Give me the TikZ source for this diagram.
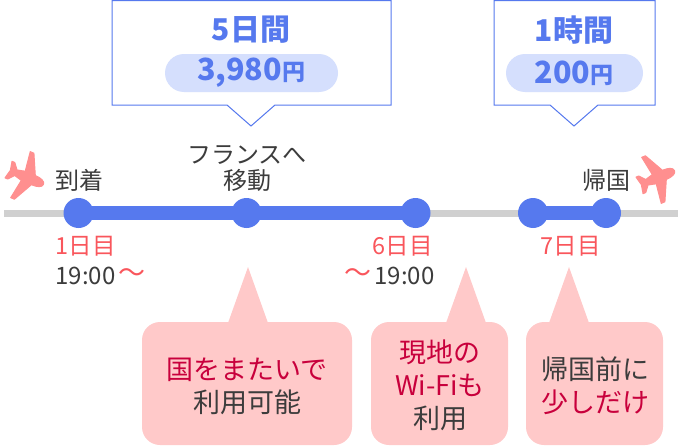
\documentclass[tikz,border=0pt]{standalone}
\usepackage{fontspec}
\setmainfont{Noto Sans CJK JP}
\usetikzlibrary{backgrounds}
\definecolor{tripblue}{HTML}{5679EE}
\definecolor{pillblue}{HTML}{D5DFFD}
\definecolor{railgray}{HTML}{D0D0D0}
\definecolor{dayred}{HTML}{F9565C}
\definecolor{notepink}{HTML}{FFC9C9}
\definecolor{notered}{HTML}{C8003C}
\definecolor{inkgray}{HTML}{3C3C3C}
\definecolor{planepink}{HTML}{FF8F8F}
\newcommand{\planeshape}{
    (19,0) .. controls (19,-3.5) and (14,-5) .. (8,-5) -- (-2,-25) -- (-6,-25) -- (-3,-5)
    -- (-11,-3) -- (-16,-9) -- (-19,-9) -- (-17,0) -- (-19,9) -- (-16,9) -- (-11,3)
    -- (-3,5) -- (-6,25) -- (-2,25) -- (8,5) .. controls (14,5) and (19,3.5) .. (19,0) -- cycle
}
\tikzset{
    stopdot/.style={circle,fill=tripblue,minimum size=30pt,inner sep=0pt},
    label/.style={text=inkgray,font=\fontsize{24}{28}\selectfont,inner sep=0pt},
    daylabel/.style={text=dayred,font=\fontsize{23.5}{28}\selectfont,inner sep=0pt},
    wave/.style={text=dayred,font=\fontsize{27}{28}\selectfont,inner sep=0pt},
    pricebox/.style={draw=tripblue,fill=white,line width=1pt,line join=miter},
    pill/.style={fill=pillblue,rounded corners=19pt},
    heading/.style={text=tripblue,font=\fontsize{30}{34}\selectfont\bfseries,inner sep=0pt},
    price/.style={text=tripblue,font=\fontsize{30.5}{34}\selectfont\bfseries,inner sep=0pt},
    notebox/.style={fill=notepink,rounded corners=18pt},
    notetip/.style={fill=notepink},
    notetext/.style={text=inkgray,font=\fontsize{27}{33}\selectfont,inner sep=0pt,align=center},
    plane/.style={fill=planepink,draw=planepink,line width=1pt,line join=round},
}
\newcommand{\yen}{{\fontsize{23}{26}\selectfont 円}}
\begin{document}
\begin{tikzpicture}[x=1pt,y=-1pt]
    \useasboundingbox (0,0) rectangle (686,447);

    % Timeline
    \coordinate (railstart) at (4,213);
    \coordinate (railend) at (678,213);
    \node[stopdot] (arrive) at (78.5,213) {};
    \node[stopdot] (move) at (246.5,213) {};
    \node[stopdot] (lastday) at (415.5,213) {};
    \node[stopdot] (wifi) at (533,213) {};
    \node[stopdot] (home) at (606,213) {};
    \begin{scope}[on background layer]
        \draw[railgray,line width=7pt] (railstart) -- (railend);
        \draw[tripblue,line width=14pt] (arrive.center) -- (lastday.center);
        \draw[tripblue,line width=14pt] (wifi.center) -- (home.center);
    \end{scope}

    % Planes
    \fill[plane,shift={(26,177)},rotate=-23] \planeshape;
    \fill[plane,shift={(657,178)},rotate=23] \planeshape;

    % Labels above
    \node[label] (arrivetxt) at (79,180) {到着};
    \node[label] (movetxt) at (247,155) {フランスへ};
    \node[label] (movetxtb) at (247,180) {移動};
    \node[label] (hometxt) at (606,180) {帰国};

    % Labels below
    \node[daylabel] (dayone) at (85.5,246) {1日目};
    \node[label] (timeone) at (85.5,276) {19:00};
    \node[wave] (waveone) at (132,276) {～};
    \node[daylabel] (daysix) at (402.5,246) {6日目};
    \node[label] (timesix) at (404.5,276) {19:00};
    \node[wave] (wavesix) at (358,276) {～};
    \node[daylabel] (dayseven) at (570.5,246) {7日目};

    % Price boxes
    \draw[pricebox] (112,0.5) -- (391,0.5) -- (391,105) -- (275,105) -- (251,126) -- (227,105) -- (112,105) -- cycle;
    \fill[pill] (165,54) rectangle (338,92);
    \node[heading] (fivedays) at (251,30) {5日間};
    \node[price] (fiveprice) at (251,73) {3,980\yen};

    \draw[pricebox] (494,0.5) -- (655,0.5) -- (655,105) -- (598,105) -- (574,126) -- (550,105) -- (494,105) -- cycle;
    \fill[pill] (506,54) rectangle (643,92);
    \node[heading] (onehour) at (574,30) {1時間};
    \node[price] (hourprice) at (574,73) {200\yen};

    % Notes
    \fill[notetip] (228,323) -- (248,267) -- (268,323) -- cycle;
    \fill[notebox] (142,322) rectangle (352,445);
    \node[notetext] (notea) at (247,386) {\textcolor{notered}{国をまたいで}\\利用可能};

    \fill[notetip] (446,323) -- (466,267) -- (486,323) -- cycle;
    \fill[notebox] (371,322) rectangle (508,445);
    \node[notetext] (noteb) at (440,385) {\textcolor{notered}{現地の}\\\textcolor{notered}{Wi-Fiも}\\利用};

    \fill[notetip] (549,323) -- (569,267) -- (589,323) -- cycle;
    \fill[notebox] (526,322) rectangle (663,445);
    \node[notetext] (notec) at (595,386) {帰国前に\\\textcolor{notered}{少しだけ}};
\end{tikzpicture}
\end{document}
